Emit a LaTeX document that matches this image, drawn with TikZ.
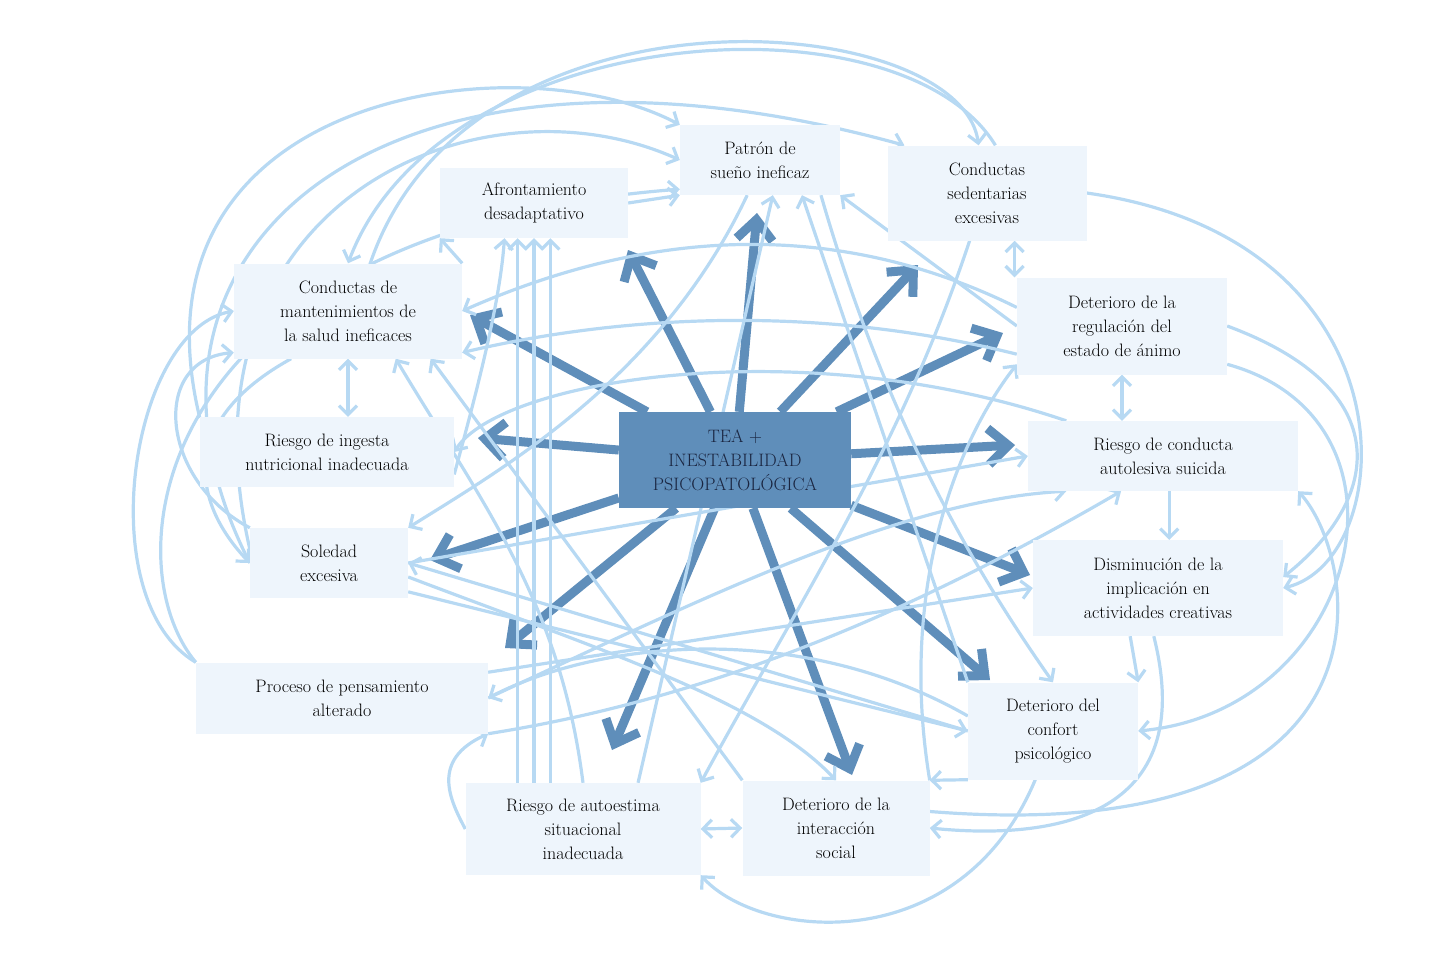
\documentclass[tikz,border=0pt]{standalone}
\usepackage{tikz}
\usetikzlibrary{arrows.meta,calc}
\pgfdeclarelayer{bg}
\pgfsetlayers{bg,main}
\definecolor{boxfill}{HTML}{EEF5FC}
\definecolor{linkblue}{HTML}{B7D9F3}
\definecolor{coreblue}{HTML}{5F8EBA}
\definecolor{coretext}{HTML}{1A2540}
\tikzset{%
  font=\fontsize{18}{24}\selectfont,
  box/.style={rectangle,fill=boxfill,draw=none,align=center,inner sep=4pt},
  core/.style={rectangle,fill=coreblue,draw=none,align=center,text=coretext,
               minimum width=232pt,minimum height=96pt},
  link/.style={draw=linkblue,line width=3.2pt,
               >={Straight Barb[length=9pt,width=18pt]},->},
  both/.style={link,<->},
  push/.style={draw=coreblue,line width=9pt,
               >={Straight Barb[length=20pt,width=36pt]},->}
}
\begin{document}
\begin{tikzpicture}[x=1pt,y=-1pt]
  \useasboundingbox (0,0) rectangle (1446,953);
  % nodes
  \node[core] (tea) at (735,460) {TEA +\\INESTABILIDAD\\PSICOPATOL\'OGICA};
  \node[box,minimum width=160pt,minimum height=70pt] (pat) at (760,160) {Patr\'on de\\sue\~no ineficaz};
  \node[box,minimum width=199pt,minimum height=95pt] (sed) at (987,193) {Conductas\\sedentarias\\excesivas};
  \node[box,minimum width=188pt,minimum height=70pt] (afr) at (534,203) {Afrontamiento\\desadaptativo};
  \node[box,minimum width=228pt,minimum height=95pt] (man) at (348,311) {Conductas de\\mantenimientos de\\la salud ineficaces};
  \node[box,minimum width=210pt,minimum height=97pt] (reg) at (1122,326) {Deterioro de la\\regulaci\'on del\\estado de \'animo};
  \node[box,minimum width=254pt,minimum height=70pt] (ing) at (327,452) {Riesgo de ingesta\\nutricional inadecuada};
  \node[box,minimum width=270pt,minimum height=70pt] (aut) at (1163,456) {Riesgo de conducta\\autolesiva suicida};
  \node[box,minimum width=158pt,minimum height=70pt] (sol) at (329,563) {Soledad\\excesiva};
  \node[box,minimum width=250pt,minimum height=96pt] (dis) at (1158,588) {Disminuci\'on de la\\implicaci\'on en\\actividades creativas};
  \node[box,minimum width=292pt,minimum height=71pt] (pro) at (342,698) {Proceso de pensamiento\\alterado};
  \node[box,minimum width=170pt,minimum height=97pt] (con) at (1053,731) {Deterioro del\\confort\\psicol\'ogico};
  \node[box,minimum width=235pt,minimum height=92pt] (est) at (583,829) {Riesgo de autoestima\\situacional\\inadecuada};
  \node[box,minimum width=187pt,minimum height=95pt] (int) at (836,828) {Deterioro de la\\interacci\'on\\social};
  % thick arrows out of the core
  \coordinate (t1) at (628,250);
  \coordinate (t2) at (757,213);
  \coordinate (t3) at (918,265);
  \coordinate (t4) at (1003,333);
  \coordinate (t5) at (1015,445);
  \coordinate (t6) at (1030,575);
  \coordinate (t7) at (990,680);
  \coordinate (t8) at (852,775);
  \coordinate (t9) at (612,750);
  \coordinate (t10) at (505,648);
  \coordinate (t11) at (430,560);
  \coordinate (t12) at (478,438);
  \coordinate (t13) at (470,315);
  \begin{pgfonlayer}{bg}
  \foreach \i in {1,...,13}
    \draw[push] (tea) -- (t\i);
  % light links
  \draw[link] (man.65) .. controls (470,-30) and (960,10) .. (sed.100);
  \draw[link] (sed.80) .. controls (900,-10) and (440,20) .. (man.north);
  \draw[link] (ing.165) .. controls (120,90) and (520,40) .. (pat.north west);
  \draw[link] (sol.west) .. controls (90,250) and (380,0) .. (sed.150);
  \draw[link] (sol.170) .. controls (170,200) and (480,70) .. (pat.west);
  \draw[link] (pro.north west) .. controls (110,560) and (150,230) .. (pat.200);
  \draw[link] (man.north east) -- (afr.south west);
  \draw[link] (afr.east) -- (pat.south west);
  \draw[link] (est.north -| afr.-115) -- (afr.-115);
  \draw[link] (est.north -| afr.south) -- (afr.south);
  \draw[link] (est.north -| afr.-65) -- (afr.-65);
  \draw[both] (sed.-60) -- (sed.-60 |- reg.north);
  \draw[both] (man.south) -- (man.south |- ing.north);
  \draw[both] (reg.south) -- (reg.south |- aut.north);
  \draw[link] (aut.-80) -- (aut.-80 |- dis.north);
  \draw[both] (est.east) -- (int.west);
  \draw[link] (sed.east) .. controls (1420,240) and (1400,560) .. (dis.east);
  \draw[link] (reg.east) .. controls (1400,390) and (1380,500) .. (dis.5);
  \draw[link] (reg.west) -- (pat.south east);
  \draw[link] (reg.170) .. controls (800,200) and (600,250) .. (man.east);
  \draw[link] (reg.195) .. controls (800,300) and (600,320) .. (man.-20);
  \draw[link] (aut.160) .. controls (800,330) and (500,380) .. (ing.east);
  \draw[link] (sol.east) -- (aut.west);
  \draw[link] (pro.east) .. controls (700,600) and (900,500) .. (aut.200);
  \draw[link] (pro.10) -- (dis.west);
  \draw[link] (con.west) -- (sol.east);
  \draw[link] (con.170) .. controls (800,620) and (600,640) .. (pro.east);
  \draw[link] (con.south west) -- (int.north east);
  \draw[link] (con.250) .. controls (960,960) and (760,940) .. (est.south east);
  \draw[link] (dis.-95) .. controls (1200,820) and (1050,840) .. (int.east);
  \draw[link] (int.10) .. controls (1410,850) and (1360,560) .. (aut.south east);
  \draw[link] (reg.-20) .. controls (1430,420) and (1360,710) .. (con.east);
  \draw[link] (pro.north west) .. controls (90,600) and (130,330) .. (man.west);
  \draw[link] (sol.north west) .. controls (160,480) and (150,360) .. (man.200);
  \draw[link] (man.220) .. controls (180,420) and (190,500) .. (sol.west);
  \draw[link] (est.west) .. controls (450,800) and (430,760) .. (pro.south east);
  \draw[link] (pat.250) .. controls (660,380) and (500,470) .. (sol.north east);
  \draw[link] (int.north west) -- (man.-30);
  \draw[link] (sol.-10) .. controls (600,650) and (760,700) .. (int.north);
  \draw[link] (est.40) -- (pat.-70);
  \draw[link] (con.north west) -- (pat.-40);
  \draw[link] (sol.-20) -- (con.west);
  \draw[link] (dis.-120) -- (con.north east);
  \draw[link] (sed.-110) .. controls (900,450) and (800,600) .. (est.north east);
  \draw[link] (est.north) .. controls (560,600) and (480,500) .. (man.-45);
  \draw[link] (ing.-10) .. controls (480,380) and (500,300) .. (afr.-130);
  \draw[link] (pro.south east) .. controls (700,700) and (900,620) .. (aut.220);
  \draw[link] (int.north east) .. controls (900,600) and (950,450) .. (reg.200);
  \draw[link] (pat.-30) .. controls (880,400) and (960,550) .. (con.north);
  \end{pgfonlayer}
\end{tikzpicture}
\end{document}
